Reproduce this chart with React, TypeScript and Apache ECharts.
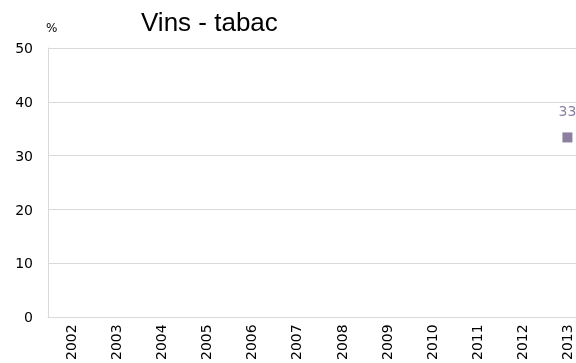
import React, { useEffect, useRef } from "react";
import * as echarts from "echarts";

const years = ["2002", "2003", "2004", "2005", "2006", "2007", "2008", "2009", "2010", "2011", "2012", "2013"];
const values: (number | null)[] = [null, null, null, null, null, null, null, null, null, null, null, 33.4];
const yTicks = [0, 10, 20, 30, 40, 50];

export default function App() {
  const ref = useRef<HTMLDivElement>(null);
  useEffect(() => {
    const chart = echarts.init(ref.current!, null, { renderer: "svg" });
    const font = "DejaVu Sans";
    chart.setOption({
      animation: false,
      textStyle: { fontFamily: font },
      title: {
        text: "Vins - tabac",
        left: 136,
        top: 4,
        textStyle: { fontSize: 26, fontWeight: "normal", color: "#000", fontFamily: "Liberation Sans" },
      },
      graphic: [
        { type: "text", left: 46, top: 22, style: { text: "%", fontSize: 12, fill: "#000", fontFamily: font } },
      ],
      grid: { left: 48, top: 48, width: 542, height: 272, containLabel: false },
      xAxis: {
        type: "category",
        data: years,
        boundaryGap: true,
        axisLine: { lineStyle: { color: "#d9d9d9" } },
        axisTick: { alignWithLabel: true, lineStyle: { color: "#d9d9d9" }, length: 4 },
        axisLabel: { rotate: 90, color: "#000", fontSize: 14, fontFamily: font, margin: 7 },
        splitLine: { show: false },
      },
      yAxis: {
        type: "value",
        min: yTicks[0],
        max: yTicks[yTicks.length - 1],
        interval: 10,
        axisLine: { show: true, lineStyle: { color: "#d9d9d9" } },
        axisTick: { show: false },
        axisLabel: { color: "#000", fontSize: 14, fontFamily: font, margin: 15 },
        splitLine: { lineStyle: { color: "#d9d9d9" } },
      },
      series: [
        {
          type: "line",
          data: values,
          symbol: "rect",
          symbolSize: 10,
          lineStyle: { opacity: 0 },
          itemStyle: { color: "#8c7fa0" },
          label: {
            show: true,
            position: "top",
            distance: 14,
            color: "#8c7fa0",
            fontSize: 14,
            fontFamily: font,
            formatter: (p: any) => Math.round(p.value).toString(),
          },
        },
      ],
    });
    return () => chart.dispose();
  }, []);
  return (
    <div style={{ position: "fixed", left: 0, top: 0, width: 576, height: 363, overflow: "hidden" }}>
      <div ref={ref} style={{ width: 600, height: 363 }} />
    </div>
  );
}
